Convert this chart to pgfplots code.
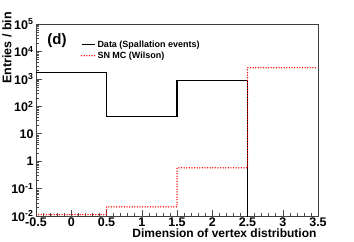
\documentclass[border=0pt]{standalone}
\usepackage{fontspec}
\setmainfont{Liberation Sans}
\usepackage{pgfplots}
\pgfplotsset{compat=1.18}
\definecolor{rootred}{RGB}{255,0,0}
\begin{document}
\begin{tikzpicture}
\begin{axis}[
  scale only axis, width=282pt, height=192pt,
  xmin=-0.5, xmax=3.5, ymode=log, ymin=1e-2, ymax=1e5,
  axis line style={black!75, line width=0.8pt},
  tick align=inside, tick pos=left,
  tick style={black!70, line width=0.5pt},
  major tick length=6pt, minor tick length=3pt,
  xtick={-0.5,0,0.5,1,1.5,2,2.5,3,3.5},
  xticklabels={-0.5,0,0.5,1,1.5,2,2.5,3,3.5},
  minor x tick num=4,
  ytick={1e-2,1e-1,1,10,100,1000,1e4,1e5},
  yticklabels={10\textsuperscript{-2},10\textsuperscript{-1},1,10,10\textsuperscript{2},10\textsuperscript{3},10\textsuperscript{4},10\textsuperscript{5}},
  ticklabel style={font=\fontsize{12.5}{14}\selectfont\bfseries},
  /pgf/number format/assume math mode=true,
  xticklabel style={yshift=2pt},
  yticklabel style={xshift=1pt},
  xlabel={Dimension of vertex distribution},
  xlabel style={at={(rel axis cs:1,0)}, anchor=north east, yshift=-9pt, xshift=2pt, font=\fontsize{12}{14}\selectfont\bfseries},
  legend style={draw=none, fill=none, at={(rel axis cs:0.155,0.93)}, anchor=north west,
    font=\fontsize{9}{10}\selectfont\bfseries, row sep=-1pt, inner sep=1pt},
  legend cell align=left,
  legend image code/.code={\draw[#1] (0cm,0cm) -- (0.46cm,0cm);},
  clip=true,
]
\addplot[const plot, black, line width=1.1pt] coordinates {
  (-0.5,1660) (0.5,43) (1.5,890) (2.5,1e-3) (3.5,1e-3)};
\addlegendentry{Data (Spallation events)}
\addplot[const plot, draw=rootred, line width=1.5pt, line cap=round, dash pattern=on 0pt off 2.6pt] coordinates {
  (-0.5,0.0112) (0.5,0.0215) (1.5,0.57) (2.5,2550) (3.5,2550)};
\addlegendentry{SN MC (Wilson)}
\node[anchor=west, font=\fontsize{15}{17}\selectfont\bfseries, inner sep=0pt] at (rel axis cs:0.04,0.915) {(d)};
\end{axis}
\node[rotate=90, anchor=east, inner sep=0pt, font=\fontsize{12.5}{14}\selectfont\bfseries] at ([shift={(-29pt,12pt)}]current axis.north west) {Entries / bin};
\useasboundingbox ([shift={(-36pt,-25pt)}]current axis.south west) rectangle ([shift={(36pt,24pt)}]current axis.north east);
\end{tikzpicture}
\end{document}
